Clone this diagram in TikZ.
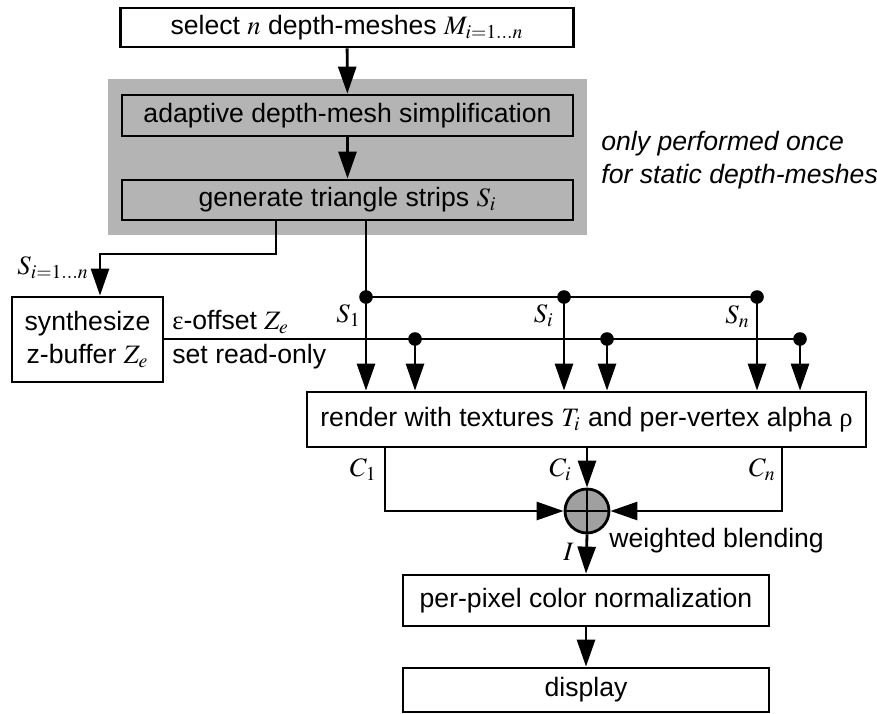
\documentclass[tikz,border=0pt]{standalone}
\usepackage{mathptmx}
\usepackage[no-math]{fontspec}
\setmainfont{Liberation Sans}
\newfontfamily\grk{Liberation Serif}
\usepackage{tikz}
\usetikzlibrary{arrows.meta,positioning,calc}

\definecolor{regiongray}{RGB}{180,180,180}
\definecolor{blendgray}{RGB}{160,160,160}

\begin{document}
\begin{tikzpicture}[x=0.5pt,y=-0.5pt,line width=1.4pt,font=\fontsize{13.3}{16.5}\selectfont]
  \tikzset{BoxStyle/.style={draw,rectangle,inner sep=0pt,align=center}}
  \tikzset{EdgeStyle/.style={-{Triangle[length=13.5pt,width=9pt]}}}
  \tikzset{LabelStyle/.style={inner sep=0pt}}
  \useasboundingbox (0,0) rectangle (877,713);

  % static part, done once
  \node[fill=regiongray,minimum width=239.5pt,minimum height=78pt] (once) at (347.5,157) {};
  \node[BoxStyle,minimum width=226.5pt,minimum height=19.5pt,fill=white] (sel) at (347,27.5) {select $n$ depth-meshes $M_{i=1\ldots n}$};
  \node[BoxStyle,minimum width=225.5pt,minimum height=20.5pt,fill=regiongray] (simp) at (347.5,115.5) {adaptive depth-mesh simplification};
  \node[BoxStyle,minimum width=225.5pt,minimum height=20pt,fill=regiongray] (strips) at (347.5,200) {generate triangle strips $S_i$};
  \node[LabelStyle,anchor=west,align=left,font=\fontsize{13.3}{16.5}\selectfont\itshape] (note) at (600,160) {only performed once\\for static depth-meshes};

  % per frame
  \node[BoxStyle,minimum width=75.5pt,minimum height=42.5pt] (synth) at (87.5,339.5) {synthesize\\z-buffer $Z_e$};
  \node[BoxStyle,minimum width=279.5pt,minimum height=27.5pt] (render) at (586.5,419.5) {render with textures $T_i$ and per-vertex alpha {\grk ρ}};
  \node[draw,circle,fill=blendgray,minimum size=22pt,inner sep=0pt] (blend) at (587,511) {};
  \node[BoxStyle,minimum width=183pt,minimum height=25.5pt] (norm) at (586,600.5) {per-pixel color normalization};
  \node[BoxStyle,minimum width=183pt,minimum height=22pt] (disp) at (586,690) {display};

  \draw[EdgeStyle] (sel) -- (simp);
  \draw[EdgeStyle] (simp) -- (strips);

  % strips to the z-buffer
  \coordinate (sA) at (276,254);
  \coordinate (sB) at (100,254);
  \draw[EdgeStyle] (strips.south -| sA) -- (sA) -- (sB) -- (synth.north -| sB);
  \node[LabelStyle,anchor=east] (sall) at (90,268) {$S_{i=1\ldots n}$};

  % strip bus
  \coordinate (s1) at (366,297);
  \coordinate (si) at (564,297);
  \coordinate (sn) at (757,297);
  \draw (strips.south -| s1) -- (s1) -- (sn);
  \foreach \p in {s1,si,sn}
    \draw[EdgeStyle] (\p) -- (render.north -| \p);
  \node[LabelStyle,anchor=east] (ls1) at (362,316) {$S_1$};
  \node[LabelStyle,anchor=east] (lsi) at (555,316) {$S_i$};
  \node[LabelStyle,anchor=east] (lsn) at (751,317) {$S_n$};

  % z-buffer bus
  \coordinate (z1) at (415,339);
  \coordinate (z2) at (607,339);
  \coordinate (z3) at (800,339);
  \draw (synth.east |- z1) -- (z3);
  \foreach \p in {z1,z2,z3}
    \draw[EdgeStyle] (\p) -- (render.north -| \p);
  \foreach \p in {s1,si,sn,z1,z2,z3}
    \fill (\p) circle (3.4pt);
  \node[LabelStyle,anchor=west] (loff) at (171,322) {{\grk ε}-offset $Z_e$};
  \node[LabelStyle,anchor=west] (lro) at (171,357) {set read-only};

  % blending
  \coordinate (c1) at (385,511);
  \coordinate (cn) at (782,511);
  \draw[EdgeStyle] (render.south -| c1) -- (c1) -- (blend.west);
  \draw[EdgeStyle] (render.south -| cn) -- (cn) -- (blend.east);
  \draw[EdgeStyle] (render.south -| blend) -- (blend.north);
  \draw (blend.north) -- (blend.south) (blend.west) -- (blend.east);
  \node[LabelStyle,anchor=east] (lc1) at (378,470) {$C_1$};
  \node[LabelStyle,anchor=east] (lci) at (573,470) {$C_i$};
  \node[LabelStyle,anchor=east] (lcn) at (777,470) {$C_n$};
  \node[LabelStyle,anchor=west] (lw) at (608,541) {weighted blending};

  \draw[EdgeStyle] (blend.south) -- (norm.north);
  \node[LabelStyle,anchor=east] (li) at (575,552) {$I$};
  \draw[EdgeStyle] (norm) -- (disp);
\end{tikzpicture}
\end{document}
